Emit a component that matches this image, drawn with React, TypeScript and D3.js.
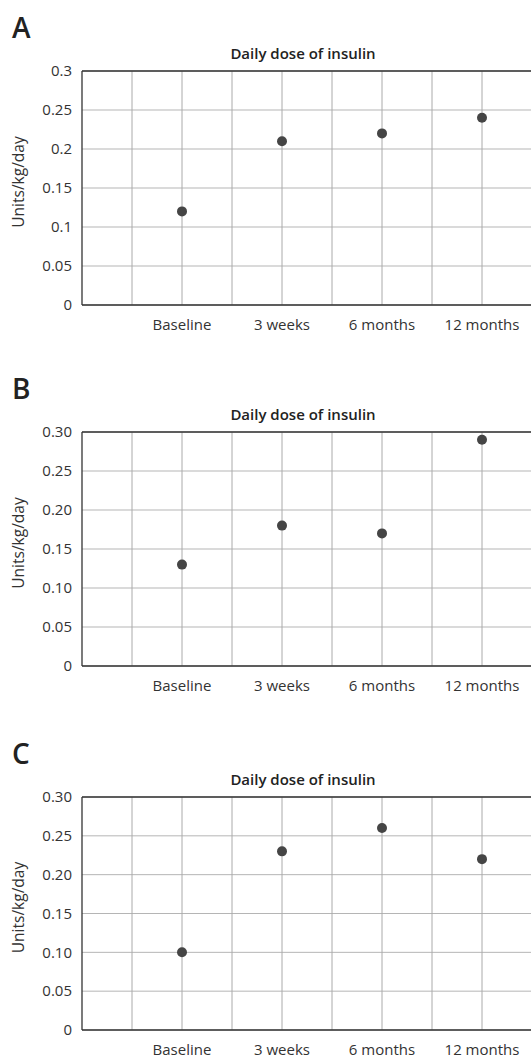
import React from 'react';
import * as d3 from 'd3';

const categories = ['Baseline', '3 weeks', '6 months', '12 months'];
const panelLetters = ['A', 'B', 'C'];
const doseA = [0.12, 0.21, 0.22, 0.24];
const doseB = [0.13, 0.18, 0.17, 0.29];
const doseC = [0.1, 0.23, 0.26, 0.22];
const yTickValues = [0, 0.05, 0.1, 0.15, 0.2, 0.25, 0.3];
const tickLabelsA = ['0', '0.05', '0.1', '0.15', '0.2', '0.25', '0.3'];
const tickLabelsBC = ['0', '0.05', '0.10', '0.15', '0.20', '0.25', '0.30'];
const title = 'Daily dose of insulin';
const yLabel = 'Units/kg/day';

const FONT = '"Open Sans", "Noto Sans", sans-serif';

const panels = [
  { letter: panelLetters[0], values: doseA, ticks: tickLabelsA, top: 71, bottom: 305 },
  { letter: panelLetters[1], values: doseB, ticks: tickLabelsBC, top: 432, bottom: 666 },
  { letter: panelLetters[2], values: doseC, ticks: tickLabelsBC, top: 797, bottom: 1030 },
];

// x runs over 9 grid cells, categories sit on every second line
const xScale = d3.scaleLinear().domain([0, 9]).range([82, 532]);
const gridX = d3.range(1, 10);
const catPos = (i: number) => 2 + i * 2;

function Panel({ p }: { p: (typeof panels)[number] }) {
  const yScale = d3.scaleLinear().domain([0, 0.3]).range([p.bottom, p.top]);
  const left = xScale(0);
  const right = xScale(9);
  const midY = (p.top + p.bottom) / 2;
  return (
    <g>
      <text x={12} y={p.top - 33} fontSize={28} fontWeight={600} fontFamily={FONT} fill="#222">
        {p.letter}
      </text>
      <text
        x={303}
        y={p.top - 12}
        fontSize={15}
        fontWeight={600}
        textAnchor="middle"
        fontFamily={FONT}
        fill="#222"
      >
        {title}
      </text>
      {yTickValues.map((v) => (
        <line
          key={'h' + v}
          x1={left}
          x2={right}
          y1={yScale(v)}
          y2={yScale(v)}
          stroke="#b5b5b5"
          strokeWidth={1}
        />
      ))}
      {gridX.map((k) => (
        <line
          key={'v' + k}
          x1={xScale(k)}
          x2={xScale(k)}
          y1={p.top}
          y2={p.bottom}
          stroke="#aaaaaa"
          strokeWidth={1}
        />
      ))}
      <line x1={left} x2={right} y1={p.top} y2={p.top} stroke="#333" strokeWidth={1.3} />
      <line x1={left} x2={right} y1={p.bottom} y2={p.bottom} stroke="#333" strokeWidth={1.3} />
      <line x1={left} x2={left} y1={p.top} y2={p.bottom} stroke="#333" strokeWidth={1.3} />
      {yTickValues.map((v, i) => (
        <text
          key={'t' + v}
          x={72}
          y={yScale(v)}
          dy="0.35em"
          textAnchor="end"
          fontSize={15}
          fontFamily={FONT}
          fill="#333"
        >
          {p.ticks[i]}
        </text>
      ))}
      {categories.map((c, i) => (
        <text
          key={c}
          x={xScale(catPos(i))}
          y={p.bottom + 25}
          textAnchor="middle"
          fontSize={15}
          fontFamily={FONT}
          fill="#333"
        >
          {c}
        </text>
      ))}
      <text
        transform={`translate(24,${midY - 6}) rotate(-90)`}
        textAnchor="middle"
        fontSize={15.5}
        fontFamily={FONT}
        fill="#333"
      >
        {yLabel}
      </text>
      {p.values.map((v, i) => (
        <circle key={'d' + i} cx={xScale(catPos(i))} cy={yScale(v)} r={5} fill="#454545" />
      ))}
    </g>
  );
}

export default function App() {
  return (
    <svg
      width={531}
      height={1059}
      style={{ position: 'absolute', left: 0, top: 0, background: '#fff' }}
    >
      {panels.map((p) => (
        <Panel key={p.letter} p={p} />
      ))}
    </svg>
  );
}
